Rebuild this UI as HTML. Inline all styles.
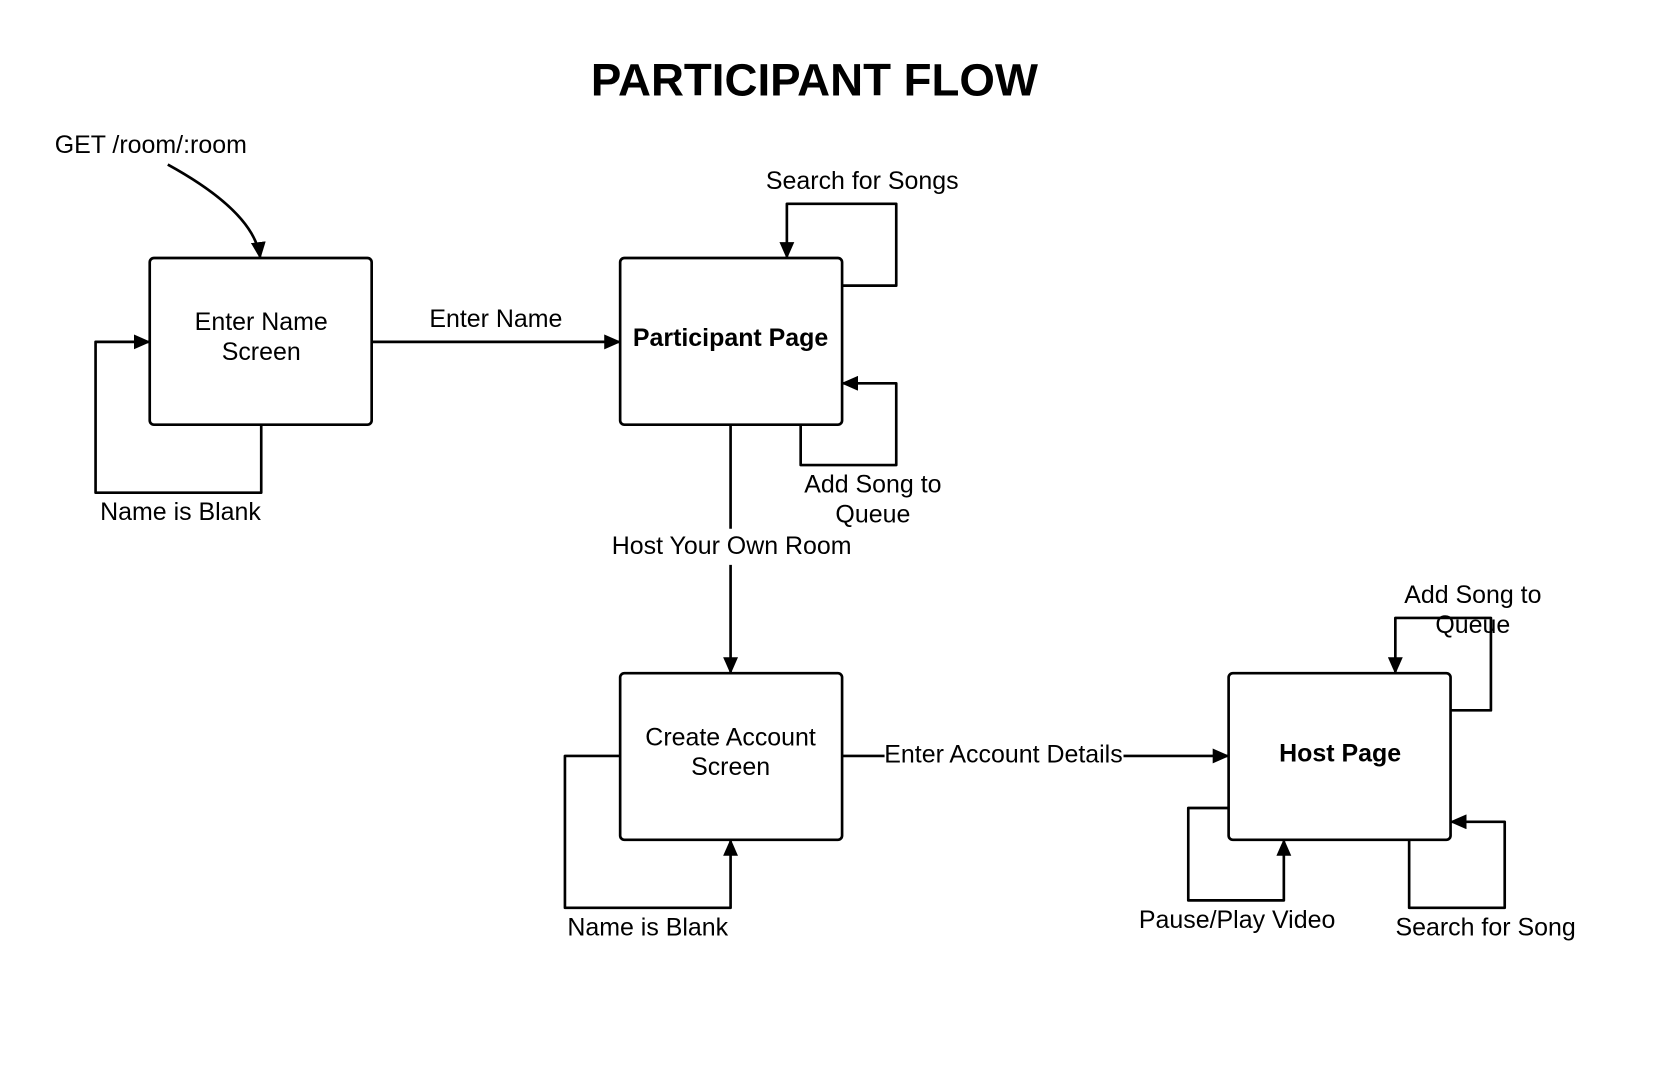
<!DOCTYPE html>
<html><head><style>html,body{margin:0;padding:0;background:#fff}svg{display:block}</style></head>
<body>
<svg width="1664" height="1066" viewBox="0 0 1567 1004" preserveAspectRatio="none" xmlns="http://www.w3.org/2000/svg" font-family="Liberation Sans, sans-serif">
<defs>
<marker id="a" markerWidth="16" markerHeight="14" refX="15" refY="7" orient="auto" markerUnits="userSpaceOnUse">
<path d="M0,0 L16,7 L0,14 Z" fill="#000"/>
</marker>
</defs>
<rect width="1567" height="1004" fill="#fff"/>
<text x="767" y="90" font-size="43" font-weight="bold" text-anchor="middle">PARTICIPANT FLOW</text>
<g fill="none" stroke="#000" stroke-width="2.5" stroke-linejoin="round">
<rect x="141" y="243" width="209" height="157" rx="4"/>
<rect x="584" y="243" width="209" height="157" rx="4"/>
<rect x="584" y="634" width="209" height="157" rx="4"/>
<rect x="1157" y="634" width="209" height="157" rx="4"/>
<path d="M158,155 Q240,200 245,243" marker-end="url(#a)"/>
<path d="M350,322 H584" marker-end="url(#a)"/>
<path d="M246,400 V464 H90 V322 H141" marker-end="url(#a)"/>
<path d="M793,269 H844 V192 H741 V243" marker-end="url(#a)"/>
<path d="M754,400 V438 H844 V361 H793" marker-end="url(#a)"/>
<path d="M688,400 V498 M688,532 V634" marker-end="url(#a)"/>
<path d="M584,712 H532 V855 H688 V791" marker-end="url(#a)"/>
<path d="M793,712 H833 M1058,712 H1157" marker-end="url(#a)"/>
<path d="M1366,669 H1404 V582 H1314 V634" marker-end="url(#a)"/>
<path d="M1157,761 H1119 V848 H1209 V791" marker-end="url(#a)"/>
<path d="M1327,791 V855 H1417 V774 H1366" marker-end="url(#a)"/>
</g>
<g font-size="23.5" text-anchor="middle" fill="#000">
<text x="142" y="144">GET /room/:room</text>
<text x="246" y="311">Enter Name</text>
<text x="246" y="339">Screen</text>
<text x="688" y="326" font-weight="bold">Participant Page</text>
<text x="688" y="702">Create Account</text>
<text x="688" y="730">Screen</text>
<text x="1262" y="717" font-weight="bold">Host Page</text>
<text x="467" y="308">Enter Name</text>
<text x="170" y="490">Name is Blank</text>
<text x="812" y="178">Search for Songs</text>
<text x="822" y="464">Add Song to</text>
<text x="822" y="492">Queue</text>
<text x="689" y="522">Host Your Own Room</text>
<text x="610" y="881">Name is Blank</text>
<text x="945" y="718">Enter Account Details</text>
<text x="1387" y="568">Add Song to</text>
<text x="1387" y="596">Queue</text>
<text x="1165" y="874">Pause/Play Video</text>
<text x="1399" y="881">Search for Song</text>
</g>
</svg>
</body></html>
